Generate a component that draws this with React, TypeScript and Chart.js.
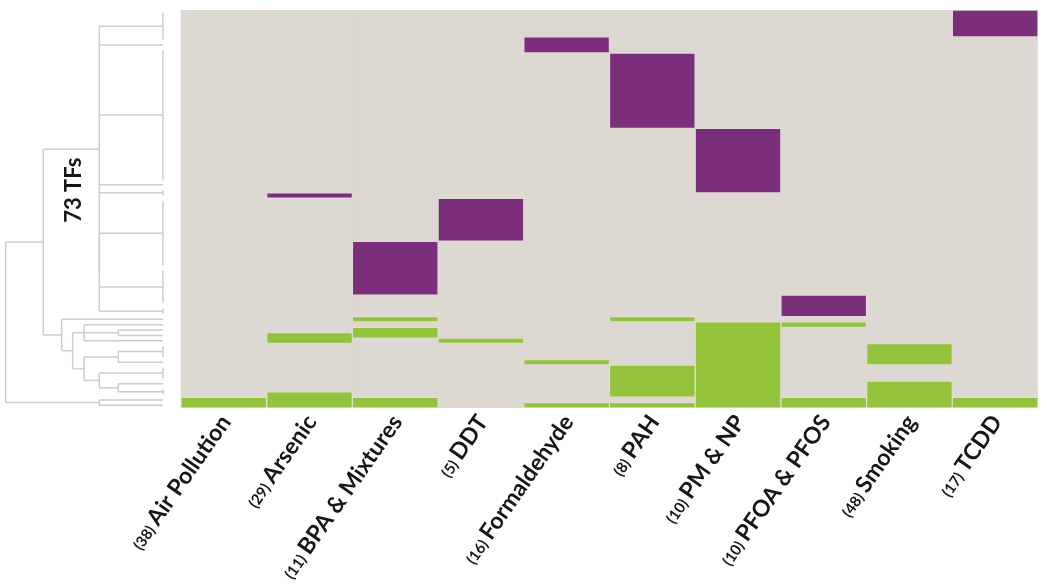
import { useEffect, useRef } from 'react';
import { Chart, registerables } from 'chart.js';

Chart.register(...registerables);

// ---------------- data ----------------
const categories = ['Air Pollution', 'Arsenic', 'BPA & Mixtures', 'DDT', 'Formaldehyde', 'PAH', 'PM & NP', 'PFOA & PFOS', 'Smoking', 'TCDD'];
const studyCounts = [38, 29, 11, 5, 16, 8, 10, 10, 48, 17];
const clusterLabel = '73 TFs';
const ROW_COUNT = 74;

// [column, firstRow, lastRow]
const purpleBlocks = [
  [9, 0, 4], [4, 5, 7], [5, 8, 21], [6, 22, 33], [1, 34, 34], [3, 35, 42], [2, 43, 52], [7, 53, 56],
];
const greenBlocks = [
  [0, 72, 73],
  [1, 60, 61], [1, 71, 73],
  [2, 57, 57], [2, 59, 60], [2, 72, 73],
  [3, 61, 61],
  [4, 65, 65], [4, 73, 73],
  [5, 57, 57], [5, 66, 71], [5, 73, 73],
  [6, 58, 73],
  [7, 58, 58], [7, 72, 73],
  [8, 62, 65], [8, 69, 73],
  [9, 72, 73],
];

// dendrogram: leaf groups (row ranges), then merges (height, child ids); ids >= leafGroups.length are merges
const leafGroups = [
  [0, 5], [6, 6], [7, 31], [32, 32], [33, 34], [35, 47], [48, 54], [55, 56],
  [57, 57], [58, 58], [59, 59], [60, 60], [61, 61], [62, 64], [65, 65], [66, 68], [69, 69], [70, 71], [72, 72], [73, 73],
];
const mergeHeights = [0.405, 0.405, 0.284, 0.502, 0.284, 0.284, 0.405, 0.502, 0.574, 0.644, 0.761, 0.405, 1.0];
const mergeChildren = [
  [5, 6, 7],          // 20
  [0, 1, 2, 3, 4, 20], // 21
  [10, 11],           // 22
  [9, 22, 12],        // 23
  [13, 14],           // 24
  [16, 17],           // 25
  [15, 25],           // 26
  [24, 26],           // 27
  [23, 27],           // 28
  [8, 28],            // 29
  [21, 29],           // 30
  [18, 19],           // 31
  [30, 31],           // 32
];

// ---------------- styling / layout ----------------
const COLORS = {
  bg: '#DED8D3',
  up: '#7B2F7B',
  down: '#93C23B',
  tree: '#D2CBC6',
  text: '#161616',
};
const X_MIN = -2.065;
const TREE_X0 = -0.21;
const TREE_SCALE = 1.835;
const LABEL_ANGLE = -55;
const FONT = 'Lato, "Open Sans", sans-serif';

function buildDendrogram() {
  const ys: number[] = [];
  const hs: number[] = [];
  const segs: { x: number; y: number }[][] = [];
  leafGroups.forEach(([a, b]) => {
    ys.push((a + b) / 2 + 0.5);
    hs.push(0);
    if (b > a) segs.push([{ x: 0, y: a + 0.5 }, { x: 0, y: b + 0.5 }]);
  });
  mergeChildren.forEach((kids, i) => {
    const h = mergeHeights[i];
    const cy = kids.map((k) => ys[k]);
    kids.forEach((k) => {
      if (hs[k] !== h) segs.push([{ x: hs[k], y: ys[k] }, { x: h, y: ys[k] }]);
    });
    segs.push([{ x: h, y: Math.min(...cy) }, { x: h, y: Math.max(...cy) }]);
    ys.push((cy[0] + cy[cy.length - 1]) / 2);
    hs.push(h);
  });
  return segs;
}

const toBars = (blocks: number[][]) => blocks.map(([c, r0, r1]) => ({ x: c + 0.5, y: [r0, r1 + 1] }));

const labelPlugin = {
  id: 'customLabels',
  afterDraw(chart: any) {
    const ctx = chart.ctx;
    const xs = chart.scales.x;
    const ys = chart.scales.y;
    const bottom = chart.chartArea.bottom;
    ctx.save();
    ctx.fillStyle = COLORS.text;
    categories.forEach((name, i) => {
      const cx = xs.getPixelForValue(i + 0.5);
      ctx.save();
      ctx.translate(cx + 8, bottom + 14);
      ctx.rotate((LABEL_ANGLE * Math.PI) / 180);
      ctx.textAlign = 'right';
      ctx.textBaseline = 'alphabetic';
      ctx.font = `bold 23px ${FONT}`;
      ctx.fillText(name, 0, 0);
      const w = ctx.measureText(name).width;
      ctx.font = `bold 15px ${FONT}`;
      ctx.fillText(`(${studyCounts[i]})`, -w - 4, 0);
      ctx.restore();
    });
    // cluster label
    const lx = xs.getPixelForValue(TREE_X0 - 0.566 * TREE_SCALE);
    const ly = ys.getPixelForValue(33.5);
    ctx.translate(lx, ly);
    ctx.rotate(-Math.PI / 2);
    ctx.textAlign = 'center';
    ctx.textBaseline = 'middle';
    ctx.font = `bold 22px ${FONT}`;
    ctx.fillText(clusterLabel, 0, 0);
    ctx.restore();
  },
};

export default function App() {
  const ref = useRef<HTMLCanvasElement>(null);
  useEffect(() => {
    document.body.style.margin = '0';
    const segs = buildDendrogram();
    const barCommon = {
      type: 'bar' as const,
      grouped: false,
      barPercentage: 1,
      categoryPercentage: 1,
      borderSkipped: false,
    };
    const chart = new Chart(ref.current!, {
      type: 'bar',
      data: {
        datasets: [
          ...segs.map((s) => ({
            type: 'line' as const,
            data: s.map((p) => ({ x: TREE_X0 - p.x * TREE_SCALE, y: p.y })),
            borderColor: COLORS.tree,
            borderWidth: 1.5,
            pointRadius: 0,
            fill: false,
            order: 0,
          })),
          {
            ...barCommon,
            data: toBars(purpleBlocks),
            backgroundColor: COLORS.up,
            borderColor: 'rgba(235,220,235,0.3)',
            borderWidth: 1,
            order: 1,
          },
          {
            ...barCommon,
            data: toBars(greenBlocks),
            backgroundColor: COLORS.down,
            borderColor: 'rgba(235,240,220,0.25)',
            borderWidth: 1,
            order: 1,
          },
          {
            ...barCommon,
            data: categories.map((_, i) => ({ x: i + 0.5, y: [0, ROW_COUNT] })),
            backgroundColor: COLORS.bg,
            borderWidth: 0,
            order: 2,
          },
        ] as any,
      },
      options: {
        animation: false,
        responsive: false,
        devicePixelRatio: 1,
        layout: { padding: { left: 4, top: 10, right: 12, bottom: 179 } },
        scales: {
          x: { type: 'linear', min: X_MIN, max: 10, offset: false, display: false },
          y: { type: 'linear', min: 0, max: ROW_COUNT, reverse: true, display: false },
        },
        plugins: { legend: { display: false }, tooltip: { enabled: false } },
      },
      plugins: [labelPlugin],
    });
    return () => chart.destroy();
  }, []);
  return <canvas ref={ref} width={1050} height={587} style={{ display: 'block' }} />;
}
